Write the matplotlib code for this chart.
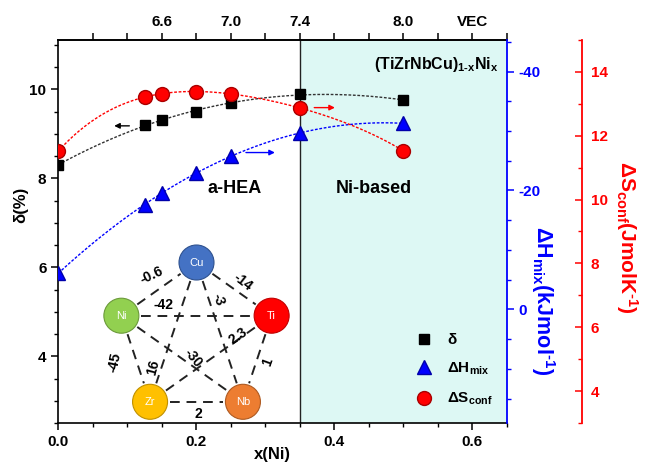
import numpy as np
import matplotlib
matplotlib.use('Agg')
import matplotlib.pyplot as plt
from matplotlib.patches import Ellipse
from matplotlib.lines import Line2D
from matplotlib.ticker import MultipleLocator, FixedLocator, FuncFormatter

plt.rcParams['font.family'] = ['Liberation Sans', 'DejaVu Sans']
plt.rcParams['font.weight'] = 'bold'
plt.rcParams['axes.unicode_minus'] = False
plt.rcParams['mathtext.fontset'] = 'custom'
plt.rcParams['mathtext.rm'] = 'Liberation Sans:bold'
plt.rcParams['mathtext.it'] = 'Liberation Sans:bold'
plt.rcParams['mathtext.bf'] = 'Liberation Sans:bold'
plt.rcParams['mathtext.default'] = 'rm'

# ---------------- data ----------------
x_ni = [0.0, 0.125, 0.15, 0.2, 0.25, 0.35, 0.5]
delta = [8.30, 9.21, 9.31, 9.50, 9.69, 9.89, 9.76]
dH_mix = [-6.1, -17.6, -19.5, -23.0, -25.8, -29.6, -31.3]
dS_conf = [11.52, 13.22, 13.31, 13.38, 13.32, 12.87, 11.53]

vec_ticks = [6.2, 6.4, 6.6, 6.8, 7.0, 7.2, 7.4, 7.6, 7.8, 8.0, 8.2, 8.4, 8.6]
vec_labels = {6.6: '6.6', 7.0: '7.0', 7.4: '7.4', 8.0: '8.0', 8.4: 'VEC'}

# pentagon diagram: elements and binary mixing enthalpies
elements = ['Cu', 'Ti', 'Nb', 'Zr', 'Ni']
elem_colors = ['#4472C4', '#FF0000', '#ED7D31', '#FFC000', '#92D050']
elem_edge = ['#2F528F', '#C00000', '#AE5A21', '#BF9000', '#6B9A3A']
pairs = [('Ni', 'Cu'), ('Cu', 'Ti'), ('Ni', 'Ti'), ('Cu', 'Nb'), ('Cu', 'Zr'),
         ('Ni', 'Nb'), ('Ni', 'Zr'), ('Zr', 'Ti'), ('Ti', 'Nb'), ('Zr', 'Nb')]
pair_labels = ['-0.6', '-14', '-42', '-3', '16', '-30', '-45', '2.3', '1', '2']
# label layout (pixel position, rotation)
pair_label_pos = [(152, 275), (243, 282), (163, 305), (218, 300), (153, 367),
                  (193, 358), (115, 362), (238, 336), (268, 362), (198, 414)]
pair_label_rot = [25, -38, 0, -72, 75, -50, 78, 35, 70, 0]

BLUE = '#0000FF'
RED = '#FF0000'
HY = '\u2010'  # typographic hyphen for math-mode text

W, H = 645, 467
fig = plt.figure(figsize=(W / 100, H / 100), dpi=100)
L, R, T, B = 58.3, 506.7, 40, 423
ax = fig.add_axes([L / W, 1 - B / H, (R - L) / W, (B - T) / H])

ax.set_xlim(0, 0.65)
ax.set_ylim(2.5, 11.11)
ax.axvspan(0.35, 0.65, color='#DDF8F4', zorder=0, lw=0)
ax.axvline(0.35, color='#222222', lw=1.0, zorder=1)

xs = np.linspace(0, 0.5, 200)
pb = np.polyfit(x_ni, delta, 3)
ax.plot(xs, np.polyval(pb, xs), color='#333333', ls=(0, (2, 1.2)), lw=1.0, zorder=2)
ax.plot(x_ni, delta, 's', color='black', ms=7.5, zorder=5)

ax.xaxis.set_major_locator(MultipleLocator(0.2))
ax.xaxis.set_minor_locator(MultipleLocator(0.05))
ax.xaxis.set_major_formatter(FuncFormatter(lambda v, p: f'{v:.1f}'))
ax.yaxis.set_major_locator(MultipleLocator(2))
ax.yaxis.set_minor_locator(MultipleLocator(0.5))
ax.tick_params(axis='both', which='major', direction='out', length=5, width=1.1, labelsize=11)
ax.tick_params(axis='both', which='minor', direction='out', length=3, width=1.0)
ax.tick_params(axis='y', right=False)
ax.spines['right'].set_visible(False)
for s in ['left', 'bottom', 'top']:
    ax.spines[s].set_linewidth(1.2)
ax.set_xlabel('x(Ni)', fontsize=12, fontweight='bold')
ax.xaxis.set_label_coords(0.477, -0.062)
ax.set_ylabel('δ(%)', fontsize=12, fontweight='bold')
ax.yaxis.set_label_coords(-0.066, (B - 205) / (B - T))

# top VEC axis
top = ax.secondary_xaxis('top', functions=(lambda x: 6 + 4 * np.asarray(x), lambda v: (np.asarray(v) - 6) / 4))
top.xaxis.set_major_locator(FixedLocator(vec_ticks))
top.xaxis.set_major_formatter(FuncFormatter(lambda v, p: vec_labels.get(round(v, 1), '')))
top.tick_params(direction='out', length=5, width=1.1, labelsize=11, pad=3)
top.spines['top'].set_linewidth(1.2)

# blue axis
axb = ax.twinx()
axb.set_ylim(19.1, -45.3)
axb.set_xlim(0, 0.65)
pbl = np.polyfit(x_ni, dH_mix, 3)
axb.plot(xs, np.polyval(pbl, xs), color=BLUE, ls=(0, (2, 1.2)), lw=1.0, zorder=2)
axb.plot(x_ni, dH_mix, '^', color=BLUE, mec='#0000AA', ms=9.5, zorder=5)
axb.yaxis.set_major_locator(MultipleLocator(20))
axb.yaxis.set_minor_locator(MultipleLocator(5))
axb.tick_params(axis='y', which='major', direction='out', length=5, width=1.1, colors=BLUE, labelsize=11)
axb.tick_params(axis='y', which='minor', direction='out', length=3, width=1.0, colors=BLUE)
for s in ['left', 'top', 'bottom']:
    axb.spines[s].set_visible(False)
axb.spines['right'].set_color(BLUE)
axb.spines['right'].set_linewidth(1.3)
fig.text(543 / W, 1 - 301 / H, 'ΔH$_{mix}$(kJmol$^{' + HY + '1}$)', color=BLUE, fontsize=15.5,
         fontweight='bold', rotation=270, ha='center', va='center')

# red axis
axr = ax.twinx()
axr.set_ylim(3.0, 15.0)
axr.set_xlim(0, 0.65)
axr.spines['right'].set_position(('axes', (582.3 - L) / (R - L)))
prd = np.polyfit(x_ni, dS_conf, 4)
axr.plot(xs, np.polyval(prd, xs), color=RED, ls=(0, (2, 1.2)), lw=1.0, zorder=2)
axr.plot(x_ni, dS_conf, 'o', color=RED, mec='#AA0000', ms=10, zorder=5)
axr.yaxis.set_major_locator(MultipleLocator(2))
axr.yaxis.set_minor_locator(MultipleLocator(1))
axr.tick_params(axis='y', which='major', direction='in', length=5, width=1.1, colors=RED, labelsize=11, pad=6)
axr.tick_params(axis='y', which='minor', direction='in', length=3, width=1.0, colors=RED)
for s in ['left', 'top', 'bottom']:
    axr.spines[s].set_visible(False)
axr.spines['right'].set_color(RED)
axr.spines['right'].set_linewidth(1.3)
fig.text(627 / W, 1 - 237 / H, 'ΔS$_{conf}$(JmolK$^{' + HY + '1}$)', color=RED, fontsize=15,
         fontweight='bold', rotation=270, ha='center', va='center')

# arrows (in delta-axis data coordinates)
ax.annotate('', xy=(0.077, 9.18), xytext=(0.107, 9.18),
            arrowprops=dict(arrowstyle='-|>', color='black', lw=1.0, mutation_scale=8), zorder=6)
ax.annotate('', xy=(0.405, 9.59), xytext=(0.367, 9.59),
            arrowprops=dict(arrowstyle='-|>', color=RED, lw=1.0, mutation_scale=8), zorder=6)
ax.annotate('', xy=(0.318, 8.58), xytext=(0.268, 8.58),
            arrowprops=dict(arrowstyle='-|>', color=BLUE, lw=1.0, mutation_scale=8), zorder=6)

ax.text(0.256, 7.78, 'a-HEA', fontsize=13, fontweight='bold', ha='center', va='center', zorder=6)
ax.text(0.457, 7.78, 'Ni-based', fontsize=13, fontweight='bold', ha='center', va='center', zorder=6)
ax.text(0.638, 10.57, '(TiZrNbCu)$_{1' + HY + 'x}$Ni$_{x}$', fontsize=11.5, fontweight='bold',
        ha='right', va='center', zorder=6)

# legend
handles = [Line2D([], [], marker='s', color='black', ls='none', ms=7.5, label='δ'),
           Line2D([], [], marker='^', color=BLUE, mec='#0000AA', ls='none', ms=9.5, label='ΔH$_{mix}$'),
           Line2D([], [], marker='o', color=RED, mec='#AA0000', ls='none', ms=10, label='ΔS$_{conf}$')]
axr.legend(handles=handles, loc='upper left', bbox_to_anchor=(415 / W, 1 - 333 / H),
           bbox_transform=fig.transFigure, frameon=False, borderpad=0, borderaxespad=0,
           handlelength=1.2, handletextpad=0.9, labelspacing=0.9, fontsize=11)

# pentagon diagram overlay (pixel coordinates)
ov = fig.add_axes([0, 0, 1, 1], zorder=10)
ov.set_xlim(0, W)
ov.set_ylim(H, 0)
ov.axis('off')
cx, cy, rx, ry = 196.5, 339.5, 79, 77
angles = [90, 18, -54, -126, 162]
pos = {}
for el, a in zip(elements, angles):
    pos[el] = (cx + rx * np.cos(np.radians(a)), cy - ry * np.sin(np.radians(a)))
rnode = 17.5
for (a, b) in pairs:
    (x1, y1), (x2, y2) = pos[a], pos[b]
    d = np.hypot(x2 - x1, y2 - y1)
    ux, uy = (x2 - x1) / d, (y2 - y1) / d
    ov.plot([x1 + ux * (rnode + 2), x2 - ux * (rnode + 2)],
            [y1 + uy * (rnode + 2), y2 - uy * (rnode + 2)],
            color='#222222', lw=1.4, ls=(0, (5, 3.5)), zorder=1)
for lab, (px, py), rot in zip(pair_labels, pair_label_pos, pair_label_rot):
    ov.text(px, py, lab, fontsize=10, fontweight='bold', ha='center', va='center',
            rotation=rot, rotation_mode='anchor', zorder=3)
for el, fc, ec in zip(elements, elem_colors, elem_edge):
    x0, y0 = pos[el]
    ov.add_patch(Ellipse((x0, y0), 2 * rnode, 2 * rnode, facecolor=fc, edgecolor=ec, lw=0.8, zorder=2))
    ov.text(x0, y0, el, color='white', fontsize=8, fontweight='normal', ha='center', va='center', zorder=3)

fig.savefig('out.png', dpi=100)
